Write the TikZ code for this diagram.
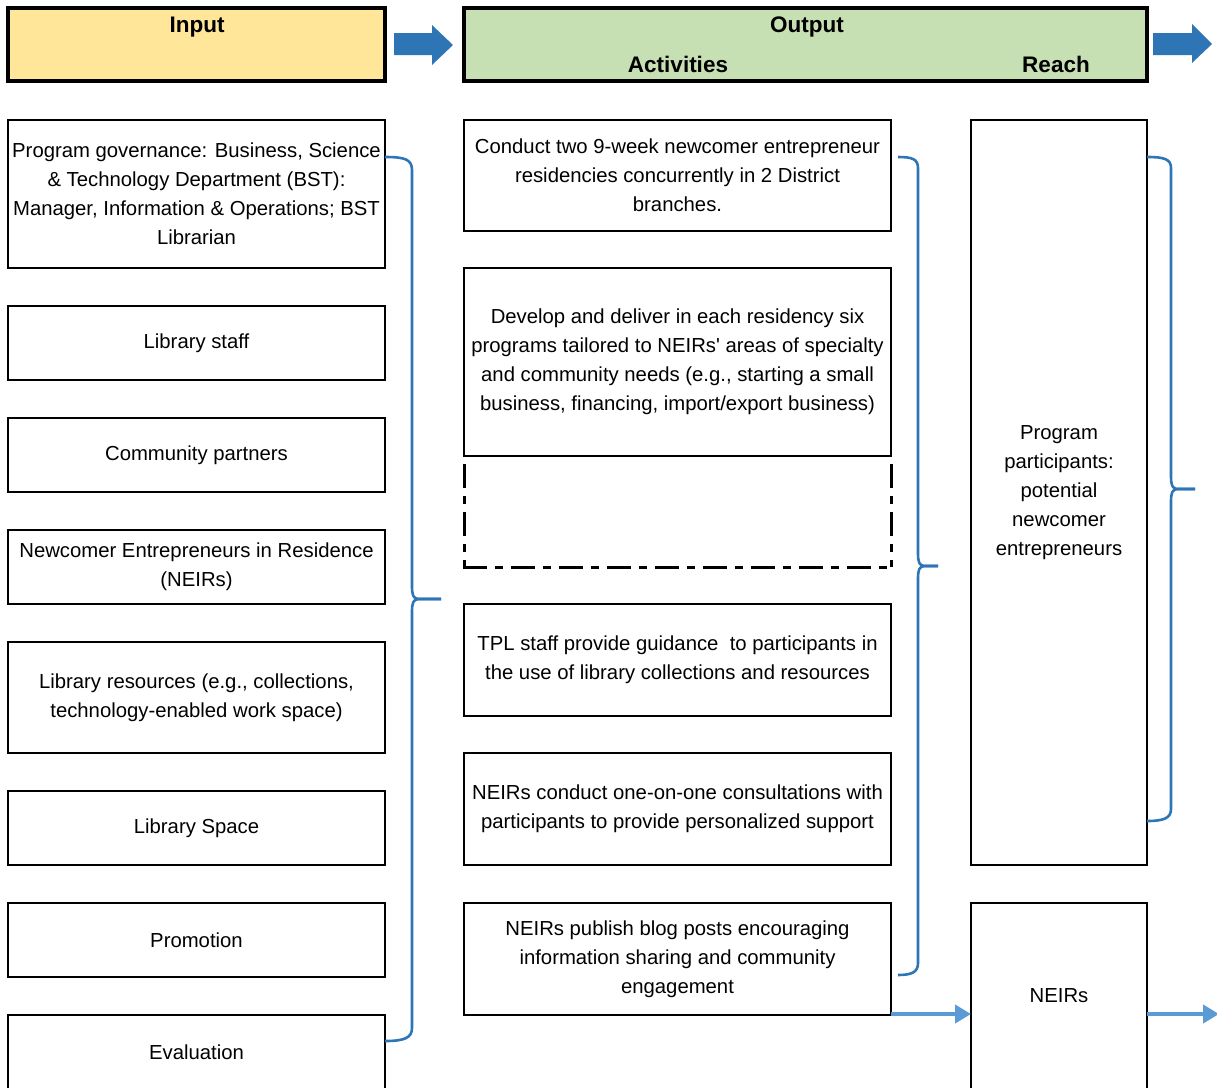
\documentclass[tikz,border=0pt]{standalone}
\usepackage{fontspec}
\setmainfont{Liberation Sans}[Ligatures=TeXOff]
\usetikzlibrary{arrows.meta,calc}
\definecolor{hdrY}{HTML}{FFE699}
\definecolor{hdrG}{HTML}{C6E0B4}
\definecolor{bracec}{HTML}{2E75B6}
\definecolor{blockc}{HTML}{2E75B6}
\definecolor{arrc}{HTML}{5B9BD5}
\begin{document}
\begin{tikzpicture}[x=1pt,y=-1pt,
  box/.style={draw=black,line width=2.8pt,fill=white,inner sep=0pt,outer sep=0pt,align=center,
    font=\fontsize{20.3}{29}\selectfont},
  inbox/.style={box,minimum width=377pt},
  actbox/.style={box,minimum width=427pt},
  reachbox/.style={box,minimum width=176pt},
  hdr/.style={draw=black,line width=3.5pt,inner sep=0pt,outer sep=0pt},
  hdrtxt/.style={font=\fontsize{22.5}{26}\selectfont\bfseries,inner sep=0pt,anchor=base},
  bracel/.style={draw=bracec,line width=2.6pt,line join=round},
  blockarr/.style={fill=blockc,draw=none},
  flowarr/.style={draw=arrc,line width=4pt,-{Triangle[length=16pt,width=18pt]}},
  dashdot/.style={draw=black,line width=3pt,dash pattern=on 24pt off 8pt on 8pt off 8pt}
]
\useasboundingbox (0,0) rectangle (1217,1087);

% headers
\node[hdr,fill=hdrY,minimum width=377pt,minimum height=73pt] (hin) at (196.5,44.5) {};
\node[hdr,fill=hdrG,minimum width=683pt,minimum height=73pt] (hout) at (805.5,44.5) {};
\node[hdrtxt] (tin) at (197,32) {Input};
\node[hdrtxt] (tout) at (807,32) {Output};
\node[hdrtxt] (tact) at (678,72) {Activities};
\node[hdrtxt] (treach) at (1056,72) {Reach};
\fill[blockarr] (394,33) -- (432,33) -- (432,25) -- (453,45) -- (432,65) -- (432,55) -- (394,55) -- cycle;
\fill[blockarr] (1153,33) -- (1192,33) -- (1192,24) -- (1212,44) -- (1192,63) -- (1192,55) -- (1153,55) -- cycle;

% inputs
\node[inbox,minimum height=148pt] (in1) at (196.5,194) {Program governance: Business, Science\\ \& Technology Department (BST):\\ Manager, Information \& Operations; BST\\ Librarian};
\node[inbox,minimum height=74pt] (in2) at (196.5,343) {Library staff};
\node[inbox,minimum height=74pt] (in3) at (196.5,455) {Community partners};
\node[inbox,minimum height=74pt] (in4) at (196.5,567) {Newcomer Entrepreneurs in Residence\\ (NEIRs)};
\node[inbox,minimum height=111pt] (in5) at (196.5,697.5) {Library resources (e.g., collections,\\ technology-enabled work space)};
\node[inbox,minimum height=74pt] (in6) at (196.5,828) {Library Space};
\node[inbox,minimum height=74pt] (in7) at (196.5,940) {Promotion};
\node[inbox,minimum height=74pt] (in8) at (196.5,1052) {Evaluation};

% activities
\node[actbox,minimum height=111pt] (a1) at (677.5,175.5) {Conduct two 9-week newcomer entrepreneur\\ residencies concurrently in 2 District\\ branches.};
\node[actbox,minimum height=188pt] (a2) at (677.5,362) {Develop and deliver in each residency six\\ programs tailored to NEIRs' areas of specialty\\ and community needs (e.g., starting a small\\ business, financing, import/export business)};
\coordinate (a2dsw) at ($(a2.south west)+(0,111)$);
\coordinate (a2dse) at ($(a2.south east)+(0,111)$);
\draw[dashdot,dash phase=40pt] (a2.south west) -- (a2dsw);
\draw[dashdot,dash phase=40pt] (a2.south east) -- (a2dse);
\draw[dashdot] ($(a2dsw)+(-1.5,0)$) -- ($(a2dse)+(1.5,0)$);
\node[actbox,minimum height=112pt] (a3) at (677.5,660) {TPL staff provide guidance\ \ to participants in\\ the use of library collections and resources};
\node[actbox,minimum height=112pt] (a4) at (677.5,809) {NEIRs conduct one-on-one consultations with\\ participants to provide personalized support};
\node[actbox,minimum height=112pt] (a5) at (677.5,959) {NEIRs publish blog posts encouraging\\ information sharing and community\\ engagement};

% reach
\node[reachbox,minimum height=745pt] (r1) at (1059,492.5) {Program\\ participants:\\ potential\\ newcomer\\ entrepreneurs};
\node[reachbox,minimum height=186pt] (r2) at (1059,996) {NEIRs};

% braces
\coordinate (b1t) at ($(in1.north east)+(0,37)$);
\coordinate (b1b) at ($(in8.north east)+(0,26)$);
\coordinate (b1m) at (441,599);
\draw[bracel] (b1t) .. controls (404,157) and (412,159) .. (412,170) -- (412,586)
  .. controls (412,595) and (413,599) .. (419,599) -- (b1m);
\draw[bracel] (b1m) -- (419,599) .. controls (413,599) and (412,603) .. (412,612) -- (412,1028)
  .. controls (412,1038) and (404,1041) .. (b1b);

\coordinate (b2t) at (898,157);
\coordinate (b2b) at (898,975);
\coordinate (b2m) at (938,566);
\draw[bracel] (b2t) .. controls (912,157) and (918,159) .. (918,168) -- (918,553)
  .. controls (918,562) and (919,566) .. (925,566) -- (b2m);
\draw[bracel] (b2m) -- (925,566) .. controls (919,566) and (918,570) .. (918,579) -- (918,963)
  .. controls (918,972) and (912,975) .. (b2b);

\coordinate (b3t) at ($(r1.north east)+(0,37)$);
\coordinate (b3b) at (1147,821);
\coordinate (b3m) at (1195,489);
\draw[bracel] (b3t) .. controls (1164,157) and (1171,159) .. (1171,168) -- (1171,476)
  .. controls (1171,485) and (1172,489) .. (1178,489) -- (b3m);
\draw[bracel] (b3m) -- (1178,489) .. controls (1172,489) and (1171,493) .. (1171,502) -- (1171,809)
  .. controls (1171,818) and (1164,821) .. (b3b);

% bottom arrows
\coordinate (fb) at ($(r2.north west)+(0,111)$);
\coordinate (fa) at (a5.east |- fb);
\coordinate (fc) at (r2.east |- fb);
\coordinate (fd) at (1219,1014);
\draw[flowarr] (fa) -- (fb);
\draw[flowarr] (fc) -- (fd);
\end{tikzpicture}
\end{document}
